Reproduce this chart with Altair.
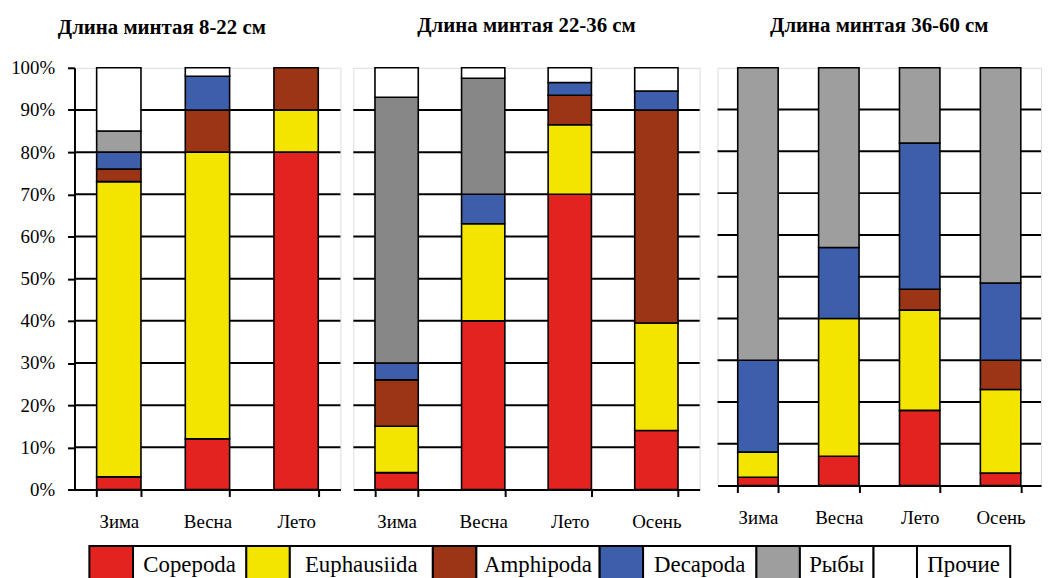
import altair as alt
import pandas as pd

# ---------------- data ----------------
categories = ["Copepoda", "Euphausiida", "Amphipoda", "Decapoda", "Рыбы", "Прочие"]
colors = ["#E3231F", "#F4E500", "#9B3516", "#3D5EAA", "#9E9E9E", "#FFFFFF"]
fish_gray_mid = "#878787"

titles = ["Длина минтая 8-22 см", "Длина минтая 22-36 см", "Длина минтая 36-60 см"]
seasons_3 = ["Зима", "Весна", "Лето"]
seasons_4 = ["Зима", "Весна", "Лето", "Осень"]

# 8-22 cm
p1_copepoda = [3, 12, 80]
p1_euphausiida = [70, 68, 10]
p1_amphipoda = [3, 10, 10]
p1_decapoda = [4, 8, 0]
p1_fish = [5, 0, 0]
p1_other = [15, 2, 0]

# 22-36 cm
p2_copepoda = [4, 40, 70, 14]
p2_euphausiida = [11, 23, 16.5, 25.5]
p2_amphipoda = [11, 0, 7, 50.5]
p2_decapoda = [4, 7, 3, 4.5]
p2_fish = [63, 27.5, 0, 0]
p2_other = [7, 2.5, 3.5, 5.5]

# 36-60 cm
p3_copepoda = [2, 7, 18, 3]
p3_euphausiida = [6, 33, 24, 20]
p3_amphipoda = [0, 0, 5, 7]
p3_decapoda = [22, 17, 35, 18.5]
p3_fish = [70, 43, 18, 51.5]
p3_other = [0, 0, 0, 0]

y_ticks = [0, 10, 20, 30, 40, 50, 60, 70, 80, 90, 100]
grid_values = [10, 20, 30, 40, 50, 60, 70, 80, 90]

FONT = "Liberation Serif"


def make_df(seasons, series):
    rows = []
    for ci, (cat, vals) in enumerate(zip(categories, series)):
        for s, v in zip(seasons, vals):
            if v > 0:
                rows.append({"season": s, "category": cat, "value": v, "idx": ci})
    return pd.DataFrame(rows)


df1 = make_df(seasons_3, [p1_copepoda, p1_euphausiida, p1_amphipoda, p1_decapoda, p1_fish, p1_other])
df2 = make_df(seasons_4, [p2_copepoda, p2_euphausiida, p2_amphipoda, p2_decapoda, p2_fish, p2_other])
df3 = make_df(seasons_4, [p3_copepoda, p3_euphausiida, p3_amphipoda, p3_decapoda, p3_fish, p3_other])


def panel(df, seasons, title, width, height, show_y, palette, title_dx=0, title_offset=31):
    yscale = alt.Scale(domain=[0, 100], nice=False)
    if show_y:
        yaxis = alt.Axis(values=y_ticks, labelExpr="datum.value + '%'", grid=False,
                         domainColor="black", domainWidth=2, tickColor="black",
                         tickWidth=2, tickSize=7, labelFont=FONT, labelFontSize=19,
                         labelColor="black", labelPadding=13, minExtent=66,
                         maxExtent=66, title=None)
    else:
        yaxis = None
    xaxis = alt.Axis(title=None, labelAngle=0, tickBand="extent", domainColor="black",
                     domainWidth=2, tickColor="black", tickWidth=2, tickSize=7,
                     labelFont=FONT, labelFontSize=19, labelColor="black",
                     labelPadding=16, grid=False)
    xscale = alt.Scale(domain=seasons, paddingInner=0.5, paddingOuter=0.25)

    grid = alt.Chart(pd.DataFrame({"v": grid_values})).mark_rule(
        color="black", strokeWidth=2
    ).encode(y=alt.Y("v:Q", scale=yscale, axis=yaxis))

    bars = alt.Chart(df).mark_bar(stroke="black", strokeWidth=1.6).encode(
        x=alt.X("season:N", scale=xscale, axis=xaxis, sort=seasons),
        y=alt.Y("value:Q", stack="zero", scale=yscale, axis=yaxis),
        color=alt.Color("category:N", scale=alt.Scale(domain=categories, range=palette),
                        legend=None),
        order=alt.Order("idx:Q"),
    )
    return alt.layer(grid, bars).properties(
        width=width, height=height,
        title=alt.TitleParams(title, font=FONT, fontSize=21, fontWeight="bold",
                              color="black", anchor="middle", offset=title_offset,
                              dx=title_dx),
    )


pal2 = colors[:4] + [fish_gray_mid] + colors[5:]

c1 = panel(df1, seasons_3, titles[0], 268, 425, True, colors, title_dx=-46, title_offset=21)
c2 = panel(df2, seasons_4, titles[1], 349, 425, False, pal2)
c3 = panel(df3, seasons_4, titles[2], 326, 421, False, colors)

top = alt.hconcat(
    alt.hconcat(c1, c2, spacing=9).resolve_scale(x="independent", y="independent", color="independent"),
    c3, spacing=14,
).resolve_scale(x="independent", y="independent", color="independent")

# ---------------- legend (table-like) ----------------
SW = 44
leg_rows = []
pos = 0
for cat in categories:
    lw = 34 + 10 * len(cat)
    leg_rows.append({"category": cat, "x0": pos, "x1": pos + SW, "kind": "swatch"})
    leg_rows.append({"category": cat, "x0": pos + SW, "x1": pos + SW + lw, "kind": "label",
                     "cx": pos + SW + lw / 2})
    pos += SW + lw
leg_df = pd.DataFrame(leg_rows)
LEG_W = 955
LEG_H = 40
LEG_OFF = 15
lx = alt.Scale(domain=[-LEG_OFF, LEG_W - LEG_OFF], nice=False, zero=False)

sw = alt.Chart(leg_df).transform_filter("datum.kind == 'swatch'").mark_rect(
    stroke="black", strokeWidth=2
).encode(
    x=alt.X("x0:Q", scale=lx, axis=None), x2="x1:Q",
    y=alt.value(0), y2=alt.value(LEG_H),
    color=alt.Color("category:N", scale=alt.Scale(domain=categories, range=colors), legend=None),
)
lab = alt.Chart(leg_df).transform_filter("datum.kind == 'label'").mark_rect(
    stroke="black", strokeWidth=2, fill="white"
).encode(
    x=alt.X("x0:Q", scale=lx, axis=None), x2="x1:Q",
    y=alt.value(0), y2=alt.value(LEG_H),
)
txt = alt.Chart(leg_df).transform_filter("datum.kind == 'label'").mark_text(
    font=FONT, fontSize=23, color="black", baseline="alphabetic", align="center"
).encode(
    x=alt.X("cx:Q", scale=lx, axis=None), y=alt.value(26),
    text="category:N",
)
legend = alt.layer(sw, lab, txt).properties(
    width=LEG_W, height=LEG_H, view=alt.ViewBackground(stroke="transparent")
)

chart = alt.vconcat(top, legend, spacing=12).resolve_scale(color="independent", x="independent").properties(
    padding={"top": 4, "left": 0, "right": 0, "bottom": 0}
).configure_view(stroke="#9A9A9A", strokeWidth=1.2).configure(background="white")

chart.save("out.html", embed_options={"renderer": "svg", "actions": False})
